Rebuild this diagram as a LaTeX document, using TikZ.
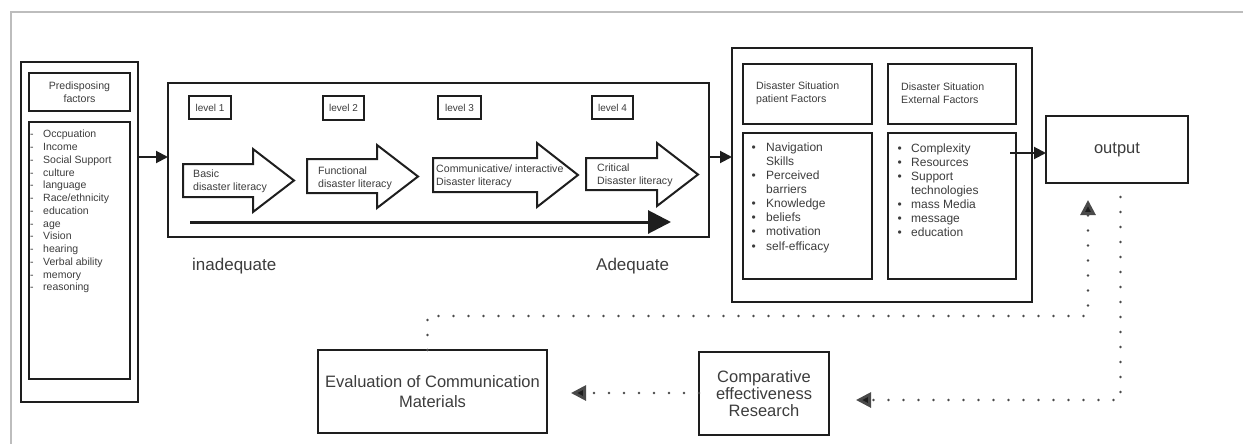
\documentclass[tikz,border=0pt]{standalone}
\usepackage{fontspec}
\setmainfont{Liberation Sans}
\usetikzlibrary{arrows.meta}
\definecolor{ln}{HTML}{1E1E1E}
\definecolor{txt}{HTML}{3C3C3C}
\definecolor{frm}{HTML}{BDBDBD}
\definecolor{dotc}{HTML}{4A4A4A}
\begin{document}
\begin{tikzpicture}[x=1pt,y=-1pt,
  box/.style={draw=ln, line width=2pt, inner sep=0pt, outer sep=0pt, text=txt},
  lblbox/.style={box, line width=2.3pt, font=\fontsize{10}{12}\selectfont},
  lbl/.style={text=txt, inner sep=0pt, align=left, anchor=west},
  small/.style={font=\fontsize{10.6}{13}\selectfont},
  big/.style={font=\fontsize{16.5}{20}\selectfont},
  blockarrow/.style={draw=ln, line width=2pt, line join=miter},
  conn/.style={draw=ln, line width=2pt, -{Triangle[length=12pt,width=12pt]}},
  dotline/.style={draw=dotc, line width=2.8pt, line cap=round, dash pattern=on 0pt off 15pt},
  dotarrow/.style={dotline, -{Triangle[length=15pt,width=15pt,fill=ln]}},
]
\useasboundingbox (0,0) rectangle (1243,444);
% page frame
\draw[frm, line width=1.5pt] (11,444) -- (11,12) -- (1243,12);

% Predisposing factors
\node[box, minimum width=117, minimum height=340] (pre) at (79.5,232) {};
\node[box, minimum width=101, minimum height=38, align=center, small] (prehead) at (79.5,92) {Predisposing\\factors};
\node[box, minimum width=101, minimum height=257] (prelist) at (79.5,250.5) {};
\node[lbl, anchor=north west, font=\fontsize{10.5}{12.75}\selectfont] (pretext) at (30,130) {%
\makebox[13pt][l]{-}Occpuation\\
\makebox[13pt][l]{-}Income\\
\makebox[13pt][l]{-}Social Support\\
\makebox[13pt][l]{-}culture\\
\makebox[13pt][l]{-}language\\
\makebox[13pt][l]{-}Race/ethnicity\\
\makebox[13pt][l]{-}education\\
\makebox[13pt][l]{-}age\\
\makebox[13pt][l]{-}Vision\\
\makebox[13pt][l]{-}hearing\\
\makebox[13pt][l]{-}Verbal ability\\
\makebox[13pt][l]{-}memory\\
\makebox[13pt][l]{-}reasoning};

% Levels box
\node[box, minimum width=541, minimum height=154] (lvl) at (438.5,160) {};
\node[lblbox, minimum width=42, minimum height=23] (l1) at (210,107.5) {level 1};
\node[lblbox, minimum width=41, minimum height=24] (l2) at (343.5,108) {level 2};
\node[lblbox, minimum width=43, minimum height=23] (l3) at (459.5,107.5) {level 3};
\node[lblbox, minimum width=41, minimum height=23] (l4) at (612.5,107.5) {level 4};

\draw[blockarrow] (183,164) -- (253,164) -- (253,149) -- (294,180.5) -- (253,212) -- (253,197) -- (183,197) -- cycle;
\draw[blockarrow] (307,159) -- (377,159) -- (377,145) -- (418,176.5) -- (377,208) -- (377,193) -- (307,193) -- cycle;
\draw[blockarrow] (433,158) -- (537,158) -- (537,143) -- (578,175) -- (537,207) -- (537,192) -- (433,192) -- cycle;
\draw[blockarrow] (586,158) -- (657,158) -- (657,143) -- (698,174.5) -- (657,206) -- (657,190) -- (586,190) -- cycle;
\node[lbl, small] (a1) at (193,181) {Basic\\disaster literacy};
\node[lbl, small] (a2) at (318,178) {Functional\\disaster literacy};
\node[lbl, small] (a3) at (436,176) {Communicative/ interactive\\Disaster literacy};
\node[lbl, small] (a4) at (597,175.5) {Critical\\Disaster literacy};

\coordinate (scaleL) at (190,222);
\coordinate (scaleR) at (671,222);
\draw[ln, line width=3pt, -{Triangle[length=23pt,width=23pt]}] (scaleL) -- (scaleR);
\node[lbl, font=\fontsize{17}{20}\selectfont] (inad) at (192,266) {inadequate};
\node[lbl, font=\fontsize{17}{20}\selectfont] (adeq) at (596,266) {Adequate};

% Disaster situation factors
\node[box, minimum width=300, minimum height=254] (sit) at (882,175) {};
\node[box, minimum width=129, minimum height=60] (phead) at (807.5,94) {};
\node[lbl, small] (pheadt) at (756,93.5) {Disaster Situation\\patient Factors};
\node[box, minimum width=128, minimum height=60] (ehead) at (952,94) {};
\node[lbl, small] (eheadt) at (901,93.5) {Disaster Situation\\External Factors};
\node[box, minimum width=129, minimum height=146] (plist) at (807.5,206) {};
\node[box, minimum width=128, minimum height=146] (elist) at (952,206) {};
\node[lbl, anchor=north west, font=\fontsize{12}{14.1}\selectfont] (plistt) at (751.5,142.5) {%
\makebox[14.5pt][l]{\textbullet}Navigation\\
\hspace*{14.5pt}Skills\\
\makebox[14.5pt][l]{\textbullet}Perceived\\
\hspace*{14.5pt}barriers\\
\makebox[14.5pt][l]{\textbullet}Knowledge\\
\makebox[14.5pt][l]{\textbullet}beliefs\\
\makebox[14.5pt][l]{\textbullet}motivation\\
\makebox[14.5pt][l]{\textbullet}self-efficacy};
\node[lbl, anchor=north west, font=\fontsize{12}{14.1}\selectfont] (elistt) at (897.5,143.5) {%
\makebox[13.5pt][l]{\textbullet}Complexity\\
\makebox[13.5pt][l]{\textbullet}Resources\\
\makebox[13.5pt][l]{\textbullet}Support\\
\hspace*{13.5pt}technologies\\
\makebox[13.5pt][l]{\textbullet}mass Media\\
\makebox[13.5pt][l]{\textbullet}message\\
\makebox[13.5pt][l]{\textbullet}education};

% Output and research boxes
\node[box, minimum width=142, minimum height=67, big] (output) at (1117,149.5) {output};
\node[box, minimum width=229, minimum height=83, big, align=center] (eval) at (432.5,391.5) {Evaluation of Communication\\Materials};
\node[box, minimum width=130, minimum height=83, align=center, font=\fontsize{16.5}{17}\selectfont] (comp) at (764,393.5) {Comparative\\effectiveness\\Research};

% solid connectors
\draw[conn] ([yshift=3pt]pre.east |- lvl.west) -- ([yshift=3pt]lvl.west);
\draw[conn] ([yshift=3pt]lvl.east) -- ([yshift=3pt]sit.west |- lvl.east);
\draw[conn] ([xshift=-6pt, yshift=-3.5pt]elist.east |- output.west) -- ([yshift=-3.5pt]output.west);

% dotted connectors
\coordinate (fbturn) at (1088,316);
\coordinate (fbtip) at (1088,200);
\coordinate (cmpin) at (856,400);
\coordinate (evin) at (571,393);
\draw[dotarrow] ([xshift=-5pt]eval.north) |- (fbturn) -- (fbtip);
\draw[dotarrow] ([xshift=3.5pt, yshift=-14pt]output.south) |- (cmpin);
\draw[dotarrow] (comp.west |- evin) -- (evin);
\end{tikzpicture}
\end{document}
